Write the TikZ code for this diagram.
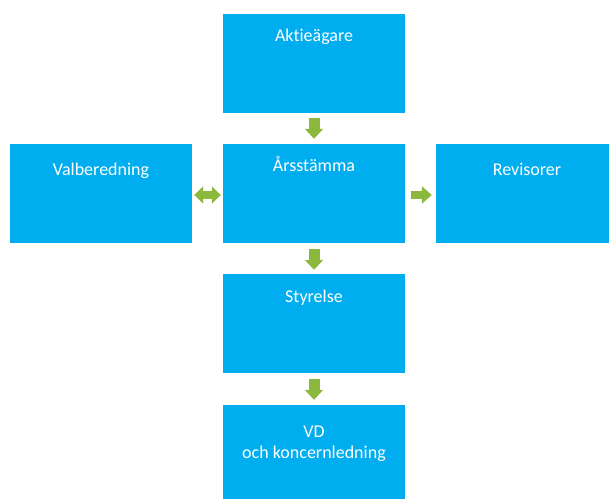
\documentclass[tikz,border=0pt]{standalone}
\usepackage{fontspec}
\setmainfont[Ligatures=NoCommon]{Carlito}
\usetikzlibrary{arrows.meta,calc}
\definecolor{boxblue}{HTML}{00ADEF}
\definecolor{arrgreen}{HTML}{8DB83E}
\begin{document}
\begin{tikzpicture}[x=1pt,y=-1pt,
  box/.style={fill=boxblue, draw=none, minimum width=182pt, minimum height=99pt, inner sep=0pt},
  txt/.style={text=white, font=\fontsize{18}{21}\selectfont, anchor=base, inner sep=0pt, align=center},
  garrow/.style={draw=arrgreen, line width=11pt, -{Triangle[width=18pt,length=10pt]}},
  darrow/.style={draw=arrgreen, line width=8pt, {Triangle[width=17pt,length=9pt]}-{Triangle[width=17pt,length=9pt]}},
  rarrow/.style={draw=arrgreen, line width=8pt, -{Triangle[width=17pt,length=10pt]}}]
\useasboundingbox (0,0) rectangle (609,498);
\clip (0,0) rectangle (609,498);
\node[box] (akt) at (314,63.5) {};
\node[box] (ars) at (314,193.5) {};
\node[box] (val) at (101,193.5) {};
\node[box] (rev) at (527,193.5) {};
\node[box] (sty) at (314,323.5) {};
\node[box] (vd)  at (314,454.5) {};
\node[txt] (takt) at ($(akt.north)+(0,28)$) {Aktieägare};
\node[txt] (tars) at ($(ars.north)+(0,28)$) {Årsstämma};
\node[txt] (tval) at ($(val.north)+(0,32)$) {Valberedning};
\node[txt] (trev) at ($(rev.north)+(0,32)$) {Revisorer};
\node[txt] (tsty) at ($(sty.north)+(0,29)$) {Styrelse};
\node[txt, anchor=center] (tvd) at ($(vd.north)+(0,39)$) {VD\\och koncernledning};
\draw[garrow, shorten <=5pt, shorten >=5pt] (akt.south) -- (ars.north);
\draw[garrow, shorten <=6pt, shorten >=4pt] (ars.south) -- (sty.north);
\draw[garrow, shorten <=6pt, shorten >=5pt] (sty.south) -- (vd.north);
\draw[darrow, shorten <=2pt, shorten >=2pt] ([yshift=-1.5pt]val.east) -- ([yshift=-1.5pt]ars.west);
\draw[rarrow, shorten <=6pt, shorten >=4pt] ([yshift=-1.5pt]ars.east) -- ([yshift=-1.5pt]rev.west);
\end{tikzpicture}
\end{document}
